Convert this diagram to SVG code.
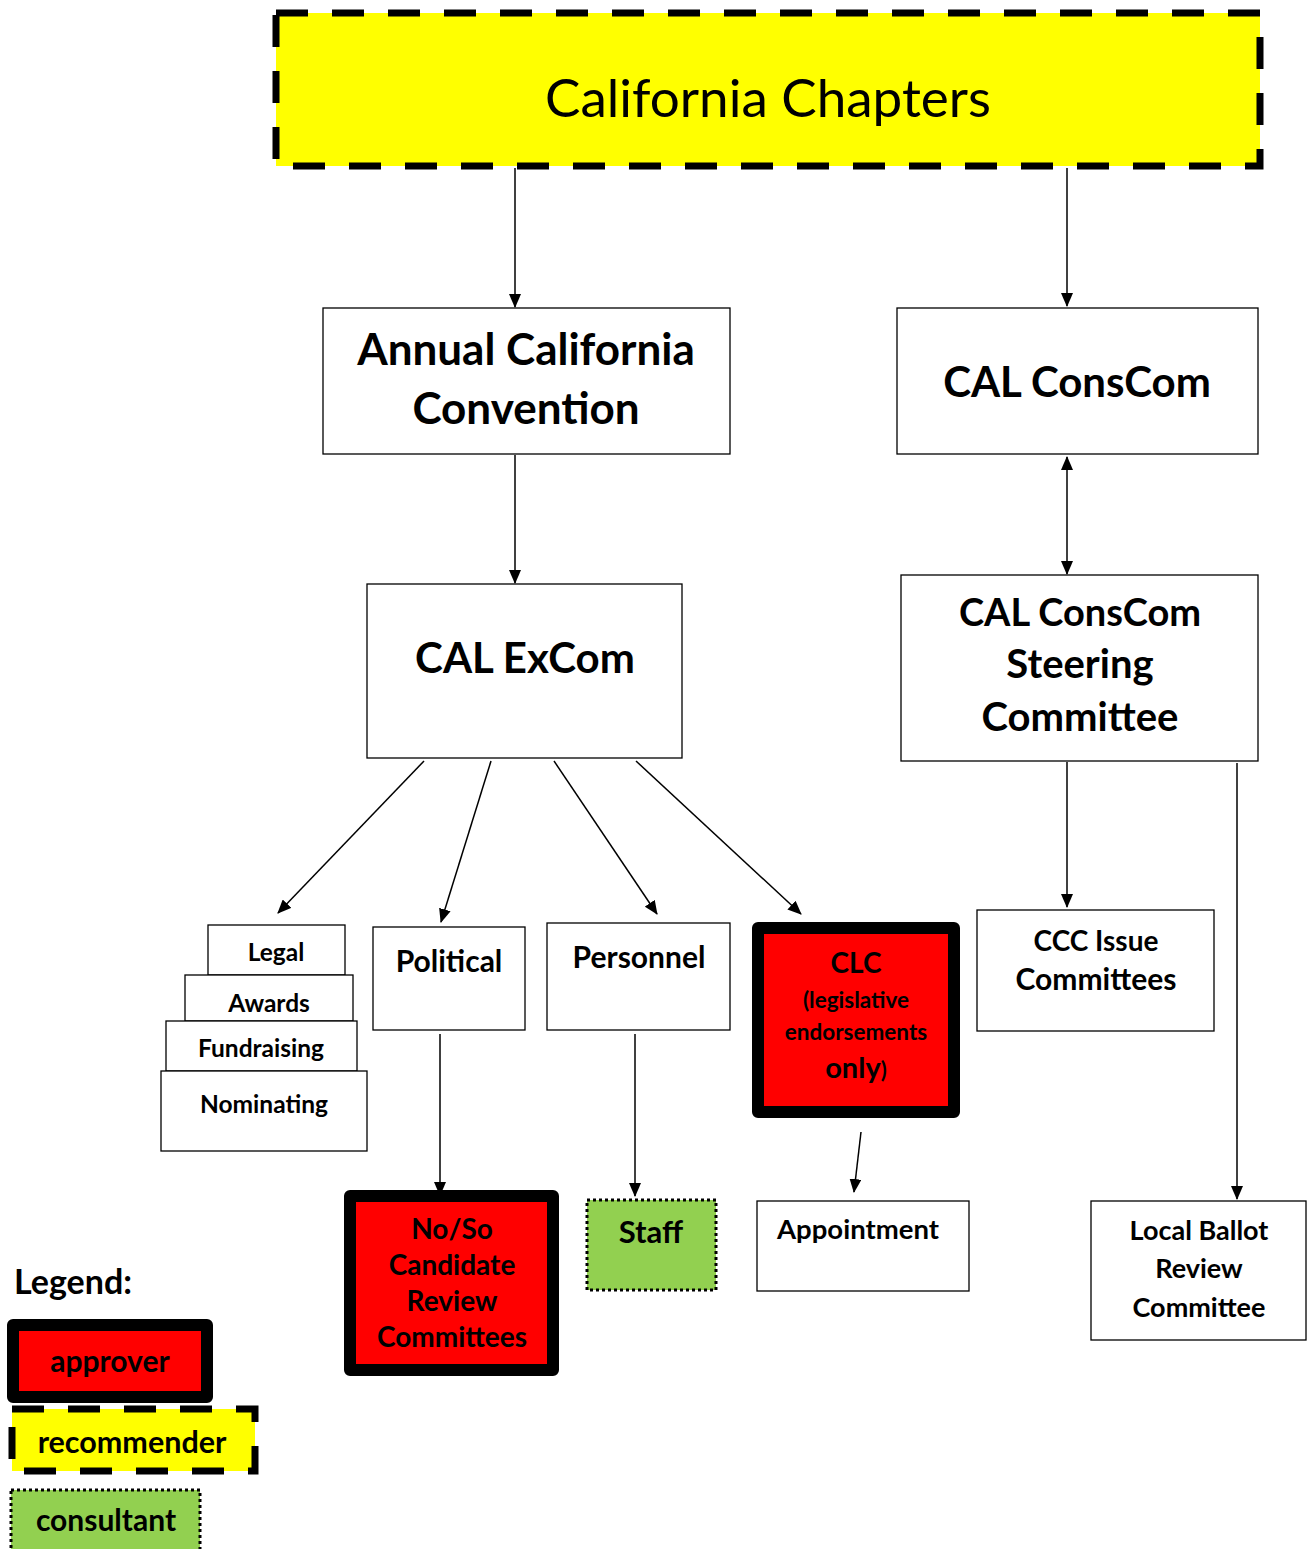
<svg xmlns="http://www.w3.org/2000/svg" width="1309" height="1549" viewBox="0 0 1309 1549">
<style>
text{font-family:Lato,"Open Sans","Liberation Sans",sans-serif;font-weight:bold;fill:#000;text-anchor:middle}
.box{fill:#fff;stroke:#000;stroke-width:1.3}
.appr{fill:#ff0000;stroke:#000;stroke-width:12;stroke-linejoin:round}
.rec{fill:#ffff00;stroke:#000;stroke-width:7;stroke-dasharray:32 24}
.cons{fill:#92d050;stroke:#000;stroke-width:3;stroke-dasharray:3 3}
.c{stroke:#000;stroke-width:1.5;fill:none}
</style>
<defs>
<marker id="ah" markerWidth="14" markerHeight="12" refX="13" refY="6" orient="auto" markerUnits="userSpaceOnUse"><path d="M0,0L14,6L0,12z" fill="#000"/></marker>
<marker id="as" markerWidth="14" markerHeight="12" refX="1" refY="6" orient="auto" markerUnits="userSpaceOnUse"><path d="M14,0L0,6L14,12z" fill="#000"/></marker>
</defs>
<g id="connectors">
<line class="c" x1="515" y1="168" x2="515" y2="307" marker-end="url(#ah)"/>
<line class="c" x1="1067" y1="168" x2="1067" y2="306" marker-end="url(#ah)"/>
<line class="c" x1="515" y1="455" x2="515" y2="583" marker-end="url(#ah)"/>
<line class="c" x1="1067" y1="457" x2="1067" y2="574" marker-start="url(#as)" marker-end="url(#ah)"/>
<line class="c" x1="424" y1="761" x2="278" y2="913" marker-end="url(#ah)"/>
<line class="c" x1="491" y1="761" x2="441" y2="922" marker-end="url(#ah)"/>
<line class="c" x1="554" y1="761" x2="657" y2="914" marker-end="url(#ah)"/>
<line class="c" x1="636" y1="761" x2="801" y2="914" marker-end="url(#ah)"/>
<line class="c" x1="1067" y1="762" x2="1067" y2="907" marker-end="url(#ah)"/>
<line class="c" x1="1237" y1="763" x2="1237" y2="1199" marker-end="url(#ah)"/>
<line class="c" x1="440" y1="1034" x2="440" y2="1195" marker-end="url(#ah)"/>
<line class="c" x1="635" y1="1034" x2="635" y2="1196" marker-end="url(#ah)"/>
<line class="c" x1="861" y1="1132" x2="854" y2="1192" marker-end="url(#ah)"/>
</g>
<g id="chapters">
<rect class="rec" x="276" y="13" width="984" height="153"/>
<text x="768" y="117" font-size="53" style="font-weight:normal">California Chapters</text>
</g>
<g id="convention">
<rect class="box" x="323" y="308" width="407" height="146"/>
<text x="526" y="365" font-size="44">Annual California</text>
<text x="526" y="424" font-size="44">Convention</text>
</g>
<g id="conscom">
<rect class="box" x="897" y="308" width="361" height="146"/>
<text x="1077" y="397" font-size="42">CAL ConsCom</text>
</g>
<g id="excom">
<rect class="box" x="367" y="584" width="315" height="174"/>
<text x="525" y="673" font-size="42">CAL ExCom</text>
</g>
<g id="steering">
<rect class="box" x="901" y="575" width="357" height="186"/>
<text x="1080" y="626" font-size="38">CAL ConsCom</text>
<text x="1080" y="678" font-size="40">Steering</text>
<text x="1080" y="731" font-size="40">Committee</text>
</g>
<g id="legal">
<rect class="box" x="208" y="925" width="137" height="50"/>
<text x="276" y="961" font-size="24.5">Legal</text>
</g>
<g id="awards">
<rect class="box" x="185" y="975" width="168" height="46"/>
<text x="269" y="1012" font-size="24.5">Awards</text>
</g>
<g id="fundraising">
<rect class="box" x="166" y="1021" width="191" height="50"/>
<text x="261" y="1057" font-size="24.5">Fundraising</text>
</g>
<g id="nominating">
<rect class="box" x="161" y="1071" width="206" height="80"/>
<text x="264" y="1113" font-size="24.5">Nominating</text>
</g>
<g id="political">
<rect class="box" x="373" y="927" width="152" height="103"/>
<text x="449" y="972" font-size="30">Political</text>
</g>
<g id="personnel">
<rect class="box" x="547" y="923" width="183" height="107"/>
<text x="639" y="968" font-size="30">Personnel</text>
</g>
<g id="clc">
<rect class="appr" x="758" y="928" width="196" height="184"/>
<text x="856" y="973" font-size="28">CLC</text>
<text x="856" y="1008" font-size="22.5">(legislative</text>
<text x="856" y="1040" font-size="22.5">endorsements</text>
<text x="856" y="1078" font-size="29">only<tspan font-size="22">)</tspan></text>
</g>
<g id="ccc">
<rect class="box" x="977" y="910" width="237" height="121"/>
<text x="1096" y="951" font-size="28">CCC Issue</text>
<text x="1096" y="990" font-size="30">Committees</text>
</g>
<g id="localballot">
<rect class="box" x="1091" y="1201" width="215" height="139"/>
<text x="1199" y="1240" font-size="27">Local Ballot</text>
<text x="1199" y="1278" font-size="27">Review</text>
<text x="1199" y="1317" font-size="27">Committee</text>
</g>
<g id="noso">
<rect class="appr" x="350" y="1196" width="203" height="174"/>
<text x="452" y="1239" font-size="28">No/So</text>
<text x="452" y="1275" font-size="28">Candidate</text>
<text x="452" y="1311" font-size="28">Review</text>
<text x="452" y="1347" font-size="28">Committees</text>
</g>
<g id="staff">
<rect class="cons" x="587" y="1200" width="129" height="90"/>
<text x="651" y="1243" font-size="31">Staff</text>
</g>
<g id="appointment">
<rect class="box" x="757" y="1201" width="212" height="90"/>
<text x="858" y="1239" font-size="27.5">Appointment</text>
</g>
<g id="legend">
<text x="14" y="1294" font-size="34" style="text-anchor:start">Legend:</text>
<rect class="appr" x="13" y="1325" width="194" height="72"/>
<text x="110" y="1372" font-size="30">approver</text>
<rect class="rec" x="12" y="1409" width="243" height="62"/>
<text x="132" y="1453" font-size="30.5">recommender</text>
<rect class="cons" x="11" y="1490" width="189" height="65"/>
<text x="106" y="1531" font-size="30">consultant</text>
</g>
</svg>
